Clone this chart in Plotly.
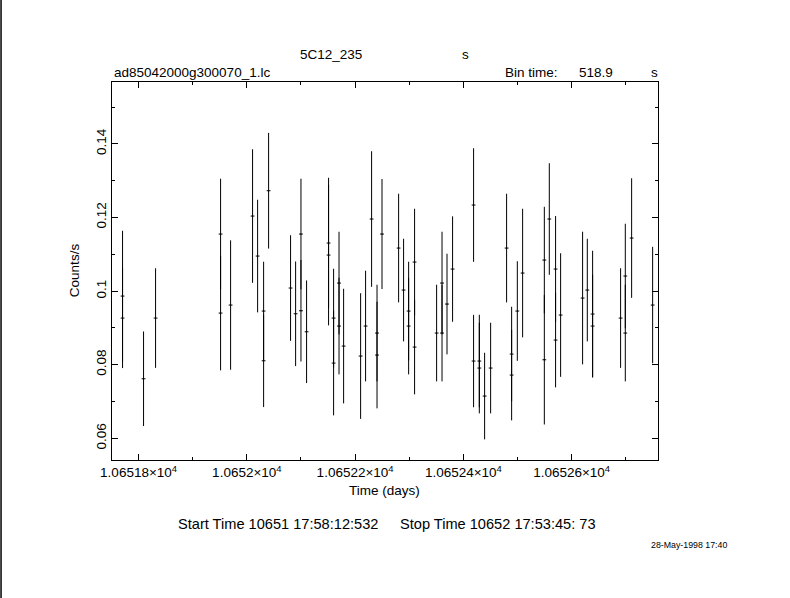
import plotly.graph_objects as go

# ---- data ----
time_days = [
    10651.7704, 10651.7704, 10651.8092, 10651.8314, 10651.9515, 10651.9515, 10651.9700,
    10652.0106, 10652.0199, 10652.0310, 10652.0310, 10652.0402, 10652.0808, 10652.0901,
    10652.1000, 10652.1000, 10652.1104, 10652.1510, 10652.1510, 10652.1603, 10652.1603,
    10652.1703, 10652.1703, 10652.1788, 10652.2102, 10652.2194, 10652.2305, 10652.2405,
    10652.2405, 10652.2497, 10652.2804, 10652.2896, 10652.2989, 10652.2989, 10652.3099,
    10652.3099, 10652.3506, 10652.3606, 10652.3606, 10652.3698, 10652.3801, 10652.4189,
    10652.4189, 10652.4295, 10652.4295, 10652.4393, 10652.4504, 10652.4799, 10652.4892,
    10652.4892, 10652.4997, 10652.5095, 10652.5496, 10652.5496, 10652.5588, 10652.5704,
    10652.5704, 10652.5797, 10652.6203, 10652.6290, 10652.6388, 10652.6388, 10652.6905,
    10652.6992, 10652.6992, 10652.7109, 10652.7497,
]
rate = [
    0.09864, 0.09266, 0.07617, 0.09266, 0.11549, 0.09402, 0.09620,
    0.12038, 0.10951, 0.09457, 0.08106, 0.12726, 0.10082, 0.09383,
    0.11549, 0.09465, 0.08894, 0.11304, 0.10978, 0.09266, 0.08043,
    0.10217, 0.09049, 0.08505, 0.08234, 0.09049, 0.11957, 0.08859,
    0.08261, 0.11549, 0.11168, 0.10027, 0.09457, 0.09049, 0.10788,
    0.08478, 0.08859, 0.10217, 0.08859, 0.09647, 0.10598, 0.12337,
    0.08098, 0.08098, 0.07908, 0.07147, 0.07908, 0.11168, 0.08288,
    0.07717, 0.09457, 0.10489, 0.10842, 0.08133, 0.11957, 0.10598,
    0.08668, 0.09348, 0.09810, 0.10027, 0.09375, 0.09049, 0.09266,
    0.10408, 0.08859, 0.11440, 0.09620,
]
rate_err = [
    0.01774, 0.01359, 0.01285, 0.01353, 0.01503, 0.01557, 0.01758,
    0.01815, 0.01530, 0.01340, 0.01258, 0.01571, 0.01435, 0.01421,
    0.01503, 0.01378, 0.01394, 0.01774, 0.01910, 0.01340, 0.01421,
    0.01394, 0.01313, 0.01557, 0.01707, 0.01503, 0.01842, 0.01313,
    0.01448, 0.01495, 0.01476, 0.01394, 0.01340, 0.01313, 0.01448,
    0.01285, 0.01313, 0.01394, 0.01313, 0.01367, 0.01432, 0.01543,
    0.01255, 0.01258, 0.01231, 0.01177, 0.01231, 0.01476, 0.01285,
    0.01231, 0.01353, 0.01747, 0.01448, 0.01758, 0.01516, 0.01440,
    0.01285, 0.01679, 0.01802, 0.01394, 0.01720, 0.01394, 0.01353,
    0.01421, 0.01313, 0.01625, 0.01582,
]
half_bin_days = 0.0035

x_tickvals = [10651.8, 10652.0, 10652.2, 10652.4, 10652.6]
x_ticktext = ["1.06518×10<sup>4</sup>", "1.0652×10<sup>4</sup>", "1.06522×10<sup>4</sup>",
              "1.06524×10<sup>4</sup>", "1.06526×10<sup>4</sup>"]
y_tickvals = [0.06, 0.08, 0.10, 0.12, 0.14]
y_ticktext = ["0.06", "0.08", "0.1", "0.12", "0.14"]

x_range = [10651.7509, 10652.7596]
y_range = [0.0541, 0.1568]

FONT = "Liberation Sans"
W, H = 790, 598
L, R, T, B = 111.7, 657.7, 82.3, 460.0


def px(x):
    return (x - L) / (R - L)


def py(y):
    return (B - y) / (B - T)


fig = go.Figure()
fig.add_trace(go.Scatter(
    x=time_days, y=rate, mode="markers",
    marker=dict(size=1, color="black"),
    error_y=dict(type="data", array=rate_err, visible=True, color="black", thickness=1, width=0),
    error_x=dict(type="constant", value=half_bin_days, visible=True, color="black", thickness=1, width=0),
    showlegend=False, hoverinfo="x+y",
))

axis_common = dict(
    showgrid=False, zeroline=False, showline=True, linecolor="black", linewidth=1,
    mirror="allticks", ticks="inside", ticklen=6, tickwidth=1, tickcolor="black",
    tickfont=dict(family=FONT, size=13.5, color="black"),
)
fig.update_xaxes(range=x_range, tickmode="array", tickvals=x_tickvals, ticktext=x_ticktext,
                 minor=dict(ticks="inside", ticklen=3, tickwidth=1, tickcolor="black",
                            dtick=0.1, tick0=10651.7, showgrid=False),
                 **axis_common)
fig.update_yaxes(range=y_range, tickmode="array", tickvals=y_tickvals, ticktext=y_ticktext,
                 tickangle=-90,
                 minor=dict(ticks="inside", ticklen=3, tickwidth=1, tickcolor="black",
                            dtick=0.01, tick0=0.05, showgrid=False),
                 **axis_common)

txt = dict(family=FONT, size=13.5, color="black")
big = dict(family=FONT, size=14.6, color="black")
ann = [
    dict(text="5C12_235", x=px(331), y=py(55), xanchor="center", yanchor="middle"),
    dict(text="s", x=px(465), y=py(55), xanchor="center", yanchor="middle"),
    dict(text="ad85042000g300070_1.lc", x=px(112), y=py(73), xanchor="left", yanchor="middle"),
    dict(text="Bin time:", x=px(503), y=py(73), xanchor="left", yanchor="middle"),
    dict(text="518.9", x=px(596), y=py(73), xanchor="center", yanchor="middle"),
    dict(text="s", x=px(654), y=py(73), xanchor="center", yanchor="middle"),
    dict(text="Counts/s", x=px(75), y=py(270), xanchor="center", yanchor="middle", textangle=-90),
    dict(text="Time (days)", x=px(384), y=py(490), xanchor="center", yanchor="middle"),
    dict(text="Start Time 10651 17:58:12:532", x=px(176), y=py(524),
         xanchor="left", yanchor="middle", font=big),
    dict(text="Stop Time 10652 17:53:45: 73", x=px(398), y=py(524),
         xanchor="left", yanchor="middle", font=big),
    dict(text="28-May-1998 17:40", x=px(689), y=py(545), xanchor="center", yanchor="middle",
         font=dict(family=FONT, size=8.8, color="black")),
]
for a in ann:
    a.setdefault("font", txt)
    fig.add_annotation(xref="paper", yref="paper", showarrow=False, **a)

# left page border line
fig.add_shape(type="line", xref="paper", yref="paper",
              x0=px(0.75), x1=px(0.75), y0=py(0), y1=py(H),
              line=dict(color="black", width=1.5))

fig.update_layout(
    width=W, height=H, autosize=False,
    margin=dict(l=L, r=W - R, t=T, b=H - B, pad=0),
    paper_bgcolor="white", plot_bgcolor="white",
    font=dict(family=FONT, size=13, color="black"),
)

fig.write_html("out.html", config={"displayModeBar": False},
               post_script="document.body.style.margin='0';document.body.style.overflow='hidden';")
